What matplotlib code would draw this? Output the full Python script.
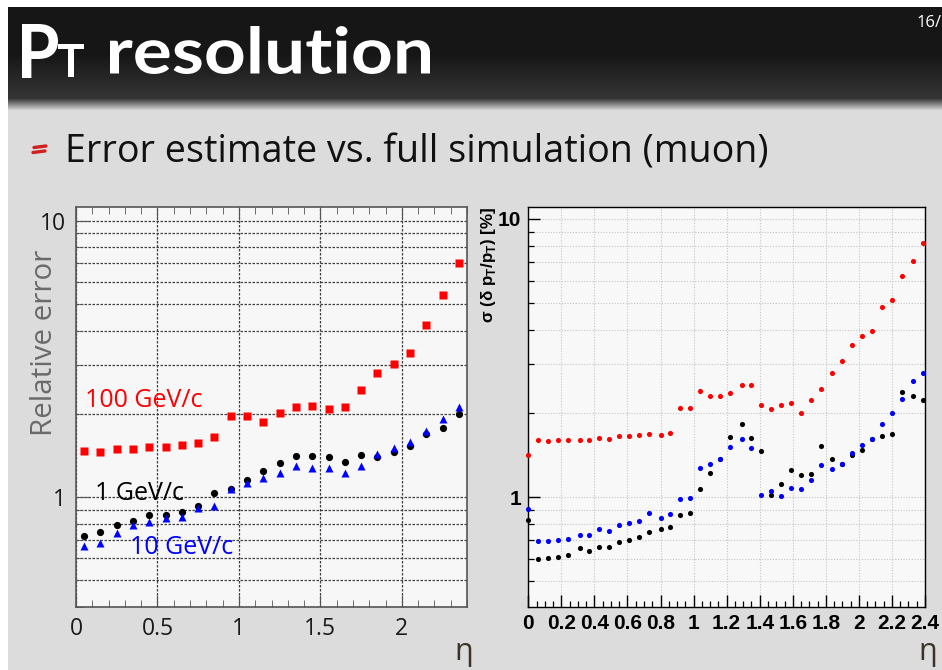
import numpy as np
import matplotlib
matplotlib.use("Agg")
import matplotlib.pyplot as plt
from matplotlib.ticker import (FixedLocator, MultipleLocator, LogLocator,
                               NullFormatter, FormatStrFormatter)
from matplotlib.textpath import TextPath
from matplotlib.patches import PathPatch
from matplotlib.font_manager import FontProperties
from matplotlib.transforms import Affine2D

plt.rcParams['font.family'] = ['Open Sans', 'DejaVu Sans']
plt.rcParams['mathtext.fontset'] = 'custom'
plt.rcParams['mathtext.rm'] = 'Liberation Sans'
plt.rcParams['mathtext.bf'] = 'Liberation Sans:bold'

# ---- error estimate (left panel), eta bins of width 0.1 ----
eta_est = [0.05, 0.15, 0.25, 0.35, 0.45, 0.55, 0.65, 0.75, 0.85, 0.95, 1.05, 1.15,
           1.25, 1.35, 1.45, 1.55, 1.65, 1.75, 1.85, 1.95, 2.05, 2.15, 2.25, 2.35]
est_100 = [1.47, 1.45, 1.49, 1.49, 1.52, 1.52, 1.54, 1.57, 1.65, 1.97, 1.97, 1.87,
           2.01, 2.12, 2.14, 2.09, 2.11, 2.44, 2.82, 3.04, 3.33, 4.19, 5.39, 7.02]
est_1 = [0.72, 0.75, 0.79, 0.82, 0.86, 0.86, 0.88, 0.93, 1.03, 1.07, 1.15, 1.24,
         1.33, 1.41, 1.41, 1.40, 1.34, 1.42, 1.40, 1.46, 1.53, 1.69, 1.78, 2.00]
est_10 = [0.665, 0.68, 0.74, 0.79, 0.81, 0.84, 0.85, 0.91, 0.93, 1.07, 1.12, 1.17,
          1.22, 1.30, 1.27, 1.27, 1.22, 1.29, 1.43, 1.50, 1.58, 1.73, 1.91, 2.12]

# ---- full simulation (right panel) ----
eta_sim = [0.00, 0.06, 0.12, 0.18, 0.24, 0.31, 0.37, 0.43, 0.49, 0.55,
           0.61, 0.67, 0.73, 0.80, 0.86, 0.92, 0.98, 1.04, 1.10, 1.16,
           1.22, 1.29, 1.35, 1.41, 1.47, 1.53, 1.59, 1.65, 1.71, 1.77,
           1.84, 1.90, 1.96, 2.02, 2.08, 2.14, 2.20, 2.26, 2.33, 2.39]
sim_100 = [1.42, 1.60, 1.59, 1.60, 1.61, 1.60, 1.61, 1.63, 1.62, 1.66,
           1.66, 1.67, 1.69, 1.68, 1.70, 2.09, 2.09, 2.40, 2.31, 2.31,
           2.37, 2.52, 2.54, 2.15, 2.08, 2.14, 2.18, 2.00, 2.23, 2.44,
           2.80, 3.08, 3.51, 3.81, 3.95, 4.82, 5.10, 6.22, 7.05, 8.20]
sim_10 = [0.906, 0.695, 0.695, 0.701, 0.710, 0.730, 0.730, 0.767, 0.757, 0.793,
          0.807, 0.822, 0.881, 0.845, 0.874, 0.984, 0.997, 1.275, 1.321, 1.377,
          1.521, 1.616, 1.504, 1.022, 1.054, 1.008, 1.083, 1.068, 1.151, 1.303,
          1.261, 1.321, 1.439, 1.538, 1.624, 1.839, 2.009, 2.256, 2.626, 2.797]
sim_1 = [0.831, 0.602, 0.605, 0.610, 0.620, 0.658, 0.640, 0.663, 0.663, 0.691,
         0.705, 0.720, 0.750, 0.772, 0.782, 0.862, 0.881, 1.068, 1.223, 1.377,
         1.647, 1.829, 1.639, 1.467, 1.020, 1.114, 1.250, 1.200, 1.210, 1.533,
         1.377, 1.321, 1.423, 1.483, 1.624, 1.656, 1.693, 2.391, 2.306, 2.231]

labels_est = ["100 GeV/c", "1 GeV/c", "10 GeV/c"]
colors = ["#ff0000", "#000000", "#0000ff"]

W, H = 942, 670
fig = plt.figure(figsize=(W / 100, H / 100), dpi=100)

# ---- slide background (pixel coordinates) ----
bg = fig.add_axes([0, 0, 1, 1], zorder=-5)
bg.set_xlim(0, W)
bg.set_ylim(H, 0)
bg.axis('off')
rows = np.arange(H, dtype=float)
prof = np.full(H, 0.865)
prof[rows < 98] = 0.09 + 0.12 * np.clip((rows[rows < 98] - 55) / 43, 0, 1)
tr_rows = (rows >= 98) & (rows < 110)
prof[tr_rows] = 0.21 + (0.865 - 0.21) * (rows[tr_rows] - 98) / 12
img = np.repeat(prof[:, None], W, axis=1)
img[:7, :] = 1.0
img[:, :8] = 1.0
bg.imshow(np.dstack([img] * 3), extent=[0, W, H, 0], aspect='auto',
          interpolation='bilinear', zorder=0)


def boxed_text(ax, s, x0, x1, ytop, ybot, fp, color):
    tp = TextPath((0, 0), s, size=100, prop=fp)
    e = tp.get_extents()
    t = (Affine2D().translate(-e.x0, -e.y0)
         .scale((x1 - x0) / e.width, -(ybot - ytop) / e.height)
         .translate(x0, ybot))
    ax.add_patch(PathPatch(t.transform_path(tp), fc=color, ec='none', zorder=2))


chalk = FontProperties(family='Lato', weight='bold')
boxed_text(bg, "P", 22, 58, 24, 78, chalk, 'white')
boxed_text(bg, "T", 58, 84, 44, 77, chalk, 'white')
boxed_text(bg, "resolution", 110, 430, 26, 74, chalk, 'white')
bg.text(917, 27, "16/", color='white', fontsize=12, va='baseline', ha='left')

# bullet and subtitle
bg.plot([34, 46], [147.5, 146], color='#d21f1f', lw=2.4, solid_capstyle='round', zorder=2)
bg.plot([33, 45], [152.5, 151], color='#d21f1f', lw=2.4, solid_capstyle='round', zorder=2)
sub = bg.text(65, 163, "Error estimate vs. full simulation (muon)", fontsize=26,
              color='#111111', va='baseline', ha='left')

ylab = bg.text(45, 343, "Relative error", rotation=90, fontsize=22, color='#6a6a6a',
               ha='center', va='center')
rlab = bg.text(489, 265, "σ (δ p$_\\mathbf{T}$/p$_\\mathbf{T}$) [%]", rotation=90,
               fontsize=12, fontweight='bold', family=['Liberation Sans', 'DejaVu Sans'],
               ha='center', va='center', color='black')
bg.text(464, 652, "η", fontsize=22, color='#3a3328', ha='center', va='center')
bg.text(928, 652, "η", fontsize=22, color='#3a3328', ha='center', va='center')

renderer = fig.canvas.get_renderer()


def fit(t, target, rotated=False):
    bb = t.get_window_extent(renderer)
    size = bb.height if rotated else bb.width
    t.set_fontsize(t.get_fontsize() * target / size)


fit(sub, 705)
fit(ylab, 187, rotated=True)
fit(rlab, 116, rotated=True)

# ---- left panel: error estimate ----
axL = fig.add_axes([76 / W, 1 - 607 / H, 391 / W, 400 / H])
axL.set_facecolor('#f7f7f7')
axL.set_yscale('log')
axL.set_xlim(0, 2.4)
axL.set_ylim(0.4, 11.2)
axL.xaxis.set_major_locator(MultipleLocator(0.5))
axL.xaxis.set_minor_locator(MultipleLocator(0.1))
axL.xaxis.set_major_formatter(FormatStrFormatter('%g'))
axL.yaxis.set_major_locator(FixedLocator([1, 10]))
axL.yaxis.set_major_formatter(FormatStrFormatter('%g'))
axL.yaxis.set_minor_locator(LogLocator(subs=np.arange(2, 10)))
axL.yaxis.set_minor_formatter(NullFormatter())
axL.xaxis.grid(True, which='major', color='#404040', ls=(0, (2, 1.2)), lw=0.9)
axL.yaxis.grid(True, which='both', color='#404040', ls=(0, (2, 1.2)), lw=0.9)
axL.set_axisbelow(True)
axL.tick_params(which='both', direction='in', top=True, right=False,
                labelsize=16.5, labelcolor='#1a1a1a', color='#555555', pad=7)
axL.tick_params(which='major', length=9)
axL.tick_params(which='minor', length=5)
for s in axL.spines.values():
    s.set_color('#555555')
    s.set_linewidth(1.2)

axL.plot(eta_est, est_100, 's', color=colors[0], ms=6.0, mec='none', zorder=3)
axL.plot(eta_est, est_1, 'o', color=colors[1], ms=5.2, mec='none', zorder=3)
axL.plot(eta_est, est_10, '^', color=colors[2], ms=5.4, mec='none', zorder=4)

axL.text(0.055, 2.23, labels_est[0], color=colors[0], fontsize=18, va='center', ha='left')
axL.text(0.115, 1.03, labels_est[1], color=colors[1], fontsize=18, va='center', ha='left')
axL.text(0.33, 0.658, labels_est[2], color=colors[2], fontsize=18, va='center', ha='left')

# ---- right panel: full simulation ----
axR = fig.add_axes([528.3 / W, 1 - 607.3 / H, 396.7 / W, 400 / H])
axR.set_facecolor('#f8f8f8')
axR.set_yscale('log')
axR.set_xlim(0, 2.4)
axR.set_ylim(0.4025, 11.0)
axR.xaxis.set_major_locator(MultipleLocator(0.2))
axR.xaxis.set_minor_locator(MultipleLocator(0.05))
axR.xaxis.set_major_formatter(FormatStrFormatter('%g'))
axR.yaxis.set_major_locator(FixedLocator([1, 10]))
axR.yaxis.set_major_formatter(FormatStrFormatter('%g'))
axR.yaxis.set_minor_locator(LogLocator(subs=np.arange(2, 10)))
axR.yaxis.set_minor_formatter(NullFormatter())
axR.xaxis.grid(True, which='major', color='#c4c4c4', ls=(0, (1, 1.5)), lw=0.8)
axR.yaxis.grid(True, which='both', color='#c4c4c4', ls=(0, (1, 1.5)), lw=0.8)
axR.set_axisbelow(True)
axR.tick_params(which='both', direction='in', top=False, right=False,
                labelsize=15, color='black', pad=5)
axR.tick_params(which='major', length=8.5, width=1.0)
axR.tick_params(which='minor', length=4.5, width=0.9)
for lab in axR.get_xticklabels() + axR.get_yticklabels():
    lab.set_fontweight('bold')
    lab.set_family(['Liberation Sans', 'DejaVu Sans'])
for s in axR.spines.values():
    s.set_color('black')
    s.set_linewidth(1.0)

axR.plot(eta_sim, sim_100, 'o', color=colors[0], ms=3.7, mec='none', zorder=3, clip_on=False)
axR.plot(eta_sim, sim_1, 'o', color=colors[1], ms=3.7, mec='none', zorder=3, clip_on=False)
axR.plot(eta_sim, sim_10, 'o', color=colors[2], ms=3.7, mec='none', zorder=4, clip_on=False)

fig.savefig("out.png", dpi=100)
